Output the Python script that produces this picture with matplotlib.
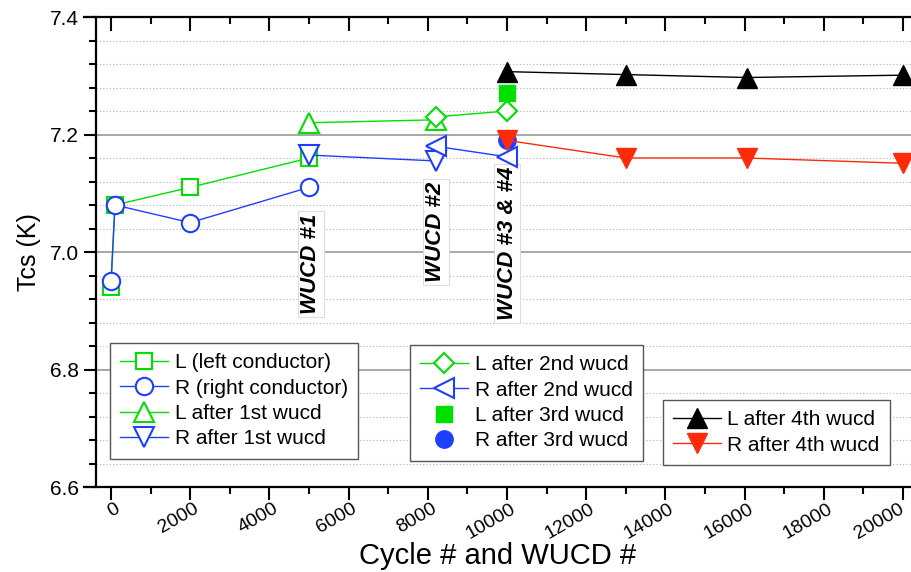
import matplotlib
matplotlib.use("Agg")
import matplotlib.pyplot as plt
from matplotlib.ticker import MultipleLocator, FormatStrFormatter
from matplotlib.transforms import ScaledTranslation

plt.rcParams['font.family'] = ['Liberation Sans', 'DejaVu Sans']

# ---- data ----
L_x = [0, 100, 2000, 5000]
L_y = [6.94, 7.08, 7.11, 7.16]
R_x = [0, 100, 2000, 5000]
R_y = [6.95, 7.08, 7.05, 7.11]
L1_x = [5000, 8200]
L1_y = [7.22, 7.225]
R1_x = [5000, 8200]
R1_y = [7.165, 7.155]
L2_x = [8200, 10000]
L2_y = [7.23, 7.24]
R2_x = [8200, 10000]
R2_y = [7.18, 7.162]
L3_x = [10000]
L3_y = [7.27]
R3_x = [10000]
R3_y = [7.19]
L4_x = [10000, 13000, 16050, 20000]
L4_y = [7.307, 7.302, 7.297, 7.301]
R4_x = [10000, 13000, 16050, 20000]
R4_y = [7.19, 7.16, 7.16, 7.151]

labels = ["L (left conductor)", "R (right conductor)", "L after 1st wucd", "R after 1st wucd",
          "L after 2nd wucd", "R after 2nd wucd", "L after 3rd wucd", "R after 3rd wucd",
          "L after 4th wucd", "R after 4th wucd"]

wucd_text = ["WUCD #1", "WUCD #2", "WUCD #3 & #4"]
wucd_x = [5050, 8200, 10000]
wucd_y = [6.98, 7.034, 7.015]

xtick_vals = list(range(0, 20001, 2000))
ytick_vals = [6.6, 6.8, 7.0, 7.2, 7.4]

GREEN = '#00e000'
BLUE = '#1f3fff'
RED = '#ff2a0a'

fig = plt.figure(figsize=(9.12, 5.72), dpi=100)
ax = fig.add_axes([84/912, 1-487/572, (912-84)/912, 470/572])

ax.set_xlim(-682, 20227)
ax.set_ylim(6.6, 7.4)

# grid lines (drawn from the left spine)
for yv in [6.8, 7.0, 7.2]:
    ax.hlines(yv, -380, 20227, colors='#a0a0a0', lw=1.3, zorder=0.5)
minor_y = [6.6 + 0.04 * i for i in range(21)]
for yv in minor_y:
    if min(abs(yv - m) for m in ytick_vals) > 1e-6:
        ax.hlines(yv, -380, 20227, colors='#b0b0b0', lw=0.8, linestyles=(0, (1, 2)), zorder=0.5)

kw = dict(lw=1.0, mew=1.5, zorder=3)
h = []
h.append(ax.plot(L_x, L_y, color=GREEN, marker='s', ms=11, mfc='white', mec=GREEN, **kw)[0])
h.append(ax.plot(R_x, R_y, color=BLUE, marker='o', ms=12.5, mfc='white', mec=BLUE, **kw)[0])
h.append(ax.plot(L1_x, L1_y, color=GREEN, marker='^', ms=14, mfc='white', mec=GREEN, **kw)[0])
h.append(ax.plot(R1_x, R1_y, color=BLUE, marker='v', ms=14, mfc='white', mec=BLUE, **kw)[0])
h.append(ax.plot(L2_x, L2_y, color=GREEN, marker='D', ms=10.5, mfc='white', mec=GREEN, **kw)[0])
h.append(ax.plot(R2_x, R2_y, color=BLUE, marker='<', ms=14, mfc='white', mec=BLUE, **kw)[0])
h.append(ax.plot(L3_x, L3_y, ls='none', marker='s', ms=11, mfc=GREEN, mec=GREEN, zorder=3)[0])
h.append(ax.plot(R3_x, R3_y, ls='none', marker='o', ms=12.5, mfc=BLUE, mec=BLUE, zorder=3)[0])
h.append(ax.plot(L4_x, L4_y, color='black', marker='^', ms=15, mfc='black', mec='black', lw=1.0, zorder=4)[0])
h.append(ax.plot(R4_x, R4_y, color=RED, marker='v', ms=15, mfc=RED, mec=RED, lw=1.0, zorder=4)[0])
for hh, lb in zip(h, labels):
    hh.set_label(lb)

for t, xv, yv in zip(wucd_text, wucd_x, wucd_y):
    ax.text(xv, yv, t, rotation=90, ha='center', va='center', fontsize=16,
            fontweight='bold', fontstyle='italic', zorder=2,
            bbox=dict(boxstyle='square,pad=0.12', fc='white', ec='#dddddd', lw=0.8))

leg_kw = dict(loc='upper left', fontsize=15, frameon=True, fancybox=False, framealpha=1,
              edgecolor='#555555', borderaxespad=0, labelspacing=0.3, handlelength=2.3,
              handletextpad=0.3, borderpad=0.5)
leg1 = ax.legend(handles=h[0:4], bbox_to_anchor=(0.0314, 0.3064), **leg_kw)
ax.add_artist(leg1)
leg2 = ax.legend(handles=h[4:8], bbox_to_anchor=(0.3937, 0.302), **leg_kw)
ax.add_artist(leg2)
leg3 = ax.legend(handles=h[8:10], bbox_to_anchor=(0.699, 0.185), **leg_kw)
for lg in (leg1, leg2, leg3):
    lg.get_frame().set_linewidth(1.0)

# spines
ax.spines['right'].set_visible(False)
ax.spines['left'].set_position(('data', -380))
for s in ['left', 'bottom', 'top']:
    ax.spines[s].set_linewidth(1.6)

ax.xaxis.set_major_locator(MultipleLocator(2000))
ax.xaxis.set_minor_locator(MultipleLocator(1000))
ax.yaxis.set_major_locator(MultipleLocator(0.2))
ax.yaxis.set_minor_locator(MultipleLocator(0.04))
ax.tick_params(axis='x', which='major', direction='out', length=9, width=1.5, labelsize=14,
               top=True, bottom=True, pad=2)
ax.tick_params(axis='x', which='minor', direction='out', length=5, width=1.5, top=True, bottom=True)
ax.tick_params(axis='y', which='major', direction='out', length=9, width=1.5, labelsize=15)
ax.tick_params(axis='y', which='minor', direction='out', length=5, width=1.5)
# top ticks inward
for tk in ax.xaxis.get_major_ticks():
    tk.tick2line.set_marker(3)
    tk.tick2line.set_markersize(10)
for tk in ax.xaxis.get_minor_ticks():
    tk.tick2line.set_marker(3)
    tk.tick2line.set_markersize(5)

ax.set_xticks(xtick_vals)
ax.set_xticklabels([str(v) for v in xtick_vals], rotation=30, ha='right',
                   rotation_mode='anchor')
xlabs = ax.get_xticklabels()
for i, lab in enumerate(xlabs):
    dx = 3 if i < len(xlabs) - 1 else -4
    lab.set_transform(lab.get_transform() + ScaledTranslation(dx/100, 2/100, fig.dpi_scale_trans))
ax.yaxis.set_major_formatter(FormatStrFormatter('%.1f'))

ax.set_xlabel('Cycle # and WUCD #', fontsize=21, labelpad=0)
ax.set_ylabel('Tcs (K)', fontsize=18, labelpad=6)

fig.savefig('out.png', dpi=100)
